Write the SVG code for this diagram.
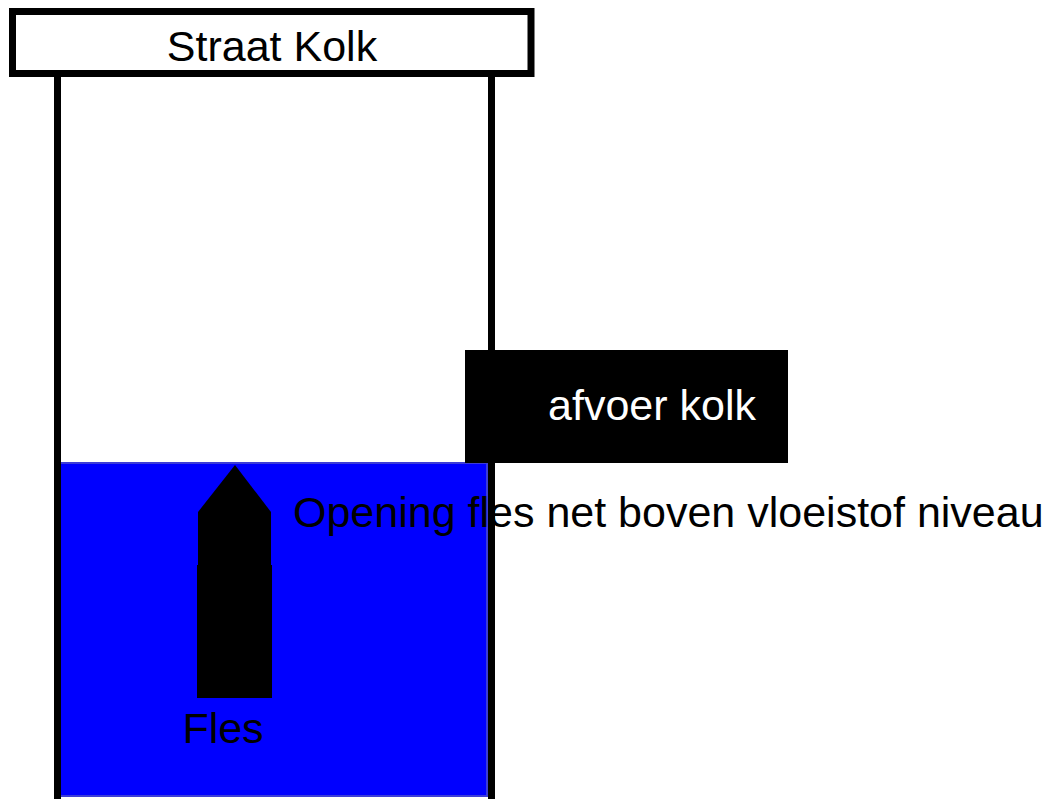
<svg xmlns="http://www.w3.org/2000/svg" width="1060" height="799" viewBox="0 0 1060 799">
<style>
.lbl{font-family:"Liberation Sans",Arial,sans-serif;font-size:43px}
.wall{stroke:#000;stroke-width:7;fill:none}
</style>
<rect width="1060" height="799" fill="#fff"/>
<g id="water">
<rect x="60" y="463" width="427" height="333" fill="#0000ff" stroke="#3c3cd8" stroke-width="2"/>
</g>
<g id="walls">
<line class="wall" x1="57.5" y1="74" x2="57.5" y2="799"/>
<line class="wall" x1="491.5" y1="74" x2="491.5" y2="799"/>
</g>
<g id="straat-kolk">
<rect x="12.5" y="11.5" width="518.5" height="62" fill="#fff" stroke="#000" stroke-width="7"/>
<text class="lbl" x="272" y="61" text-anchor="middle" fill="#000">Straat Kolk</text>
</g>
<g id="afvoer-kolk">
<rect x="465" y="350" width="323" height="113" fill="#000"/>
<text class="lbl" x="652" y="420" text-anchor="middle" fill="#fff">afvoer kolk</text>
</g>
<g id="fles">
<polygon points="235,465 271,512 271,565 198,565 198,512" fill="#000"/>
<rect x="197" y="565" width="75" height="133" fill="#000"/>
<text class="lbl" x="223" y="743" text-anchor="middle" fill="#000">Fles</text>
</g>
<g id="opening-label">
<text class="lbl" x="293" y="527" fill="#000">Opening fles net boven vloeistof niveau</text>
</g>
</svg>
